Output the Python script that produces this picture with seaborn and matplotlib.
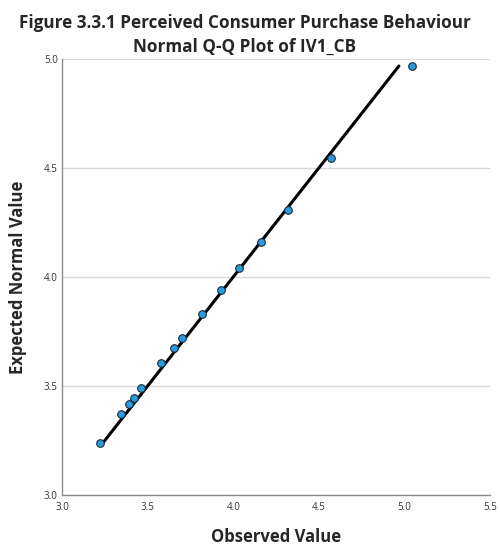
import numpy as np
import pandas as pd
import matplotlib
matplotlib.use("Agg")
import matplotlib.pyplot as plt
import seaborn as sns

# Values
observed = [3.222, 3.345, 3.391, 3.420, 3.461, 3.578, 3.654, 3.700,
            3.818, 3.929, 4.034, 4.162, 4.320, 4.571, 5.044]
expected = [3.239, 3.372, 3.417, 3.445, 3.491, 3.606, 3.674, 3.720,
            3.830, 3.940, 4.041, 4.161, 4.307, 4.546, 4.968]

df = pd.DataFrame({"Observed Value": observed, "Expected Normal Value": expected})
line_df = pd.DataFrame({"x": [min(expected), max(expected)],
                        "y": [min(expected), max(expected)]})

sns.set_style("white")
plt.rcParams["font.family"] = ["Open Sans", "DejaVu Sans"]

fig = plt.figure(figsize=(5, 5.49), dpi=100)
ax = fig.add_axes([0.124, 0.0984, 0.856, 0.7941])

sns.lineplot(data=line_df, x="x", y="y", color="black", linewidth=2.2, ax=ax, zorder=2)
sns.scatterplot(data=df, x="Observed Value", y="Expected Normal Value",
                color="#2b9be0", edgecolor="#1a2a3a", linewidth=0.8,
                s=30, ax=ax, zorder=3)

ax.set_xlim(3.0, 5.5)
ax.set_ylim(3.0, 5.0)
ax.set_xticks([3.0, 3.5, 4.0, 4.5, 5.0, 5.5])
ax.set_yticks([3.0, 3.5, 4.0, 4.5, 5.0])
ax.xaxis.set_major_formatter(matplotlib.ticker.FormatStrFormatter("%.1f"))
ax.yaxis.set_major_formatter(matplotlib.ticker.FormatStrFormatter("%.1f"))
ax.tick_params(axis="both", labelsize=7, colors="#333333", length=0)
ax.tick_params(axis="x", pad=5)
ax.tick_params(axis="y", pad=3)

ax.grid(axis="y", color="#d9d9d9", linewidth=1)
ax.set_axisbelow(True)
for side in ["top", "right"]:
    ax.spines[side].set_visible(False)
for side in ["left", "bottom"]:
    ax.spines[side].set_color("#8c8c8c")
    ax.spines[side].set_linewidth(1)

ax.set_xlabel("Observed Value", fontsize=12, fontweight="bold", labelpad=11)
ax.set_ylabel("Expected Normal Value", fontsize=12, fontweight="bold", labelpad=12)
fig.suptitle("Figure 3.3.1 Perceived Consumer Purchase Behaviour\nNormal Q-Q Plot of IV1_CB",
             x=0.49, y=0.975, fontsize=12.3, fontweight="bold", linespacing=1.45)

fig.savefig("out.png", dpi=100)
